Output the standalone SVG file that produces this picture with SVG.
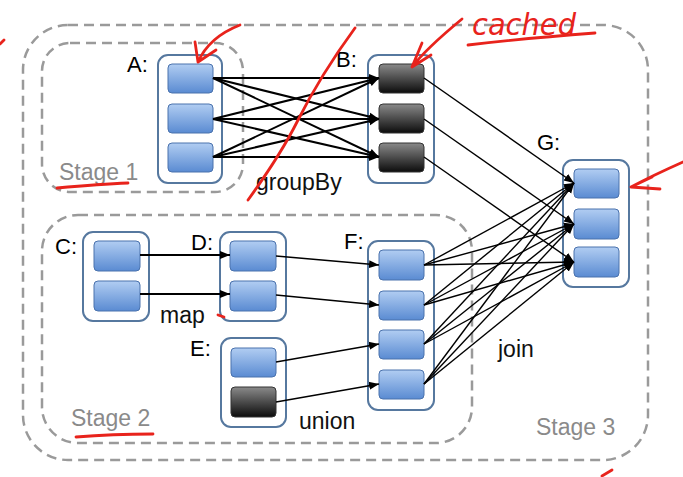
<svg xmlns="http://www.w3.org/2000/svg" width="683" height="477" viewBox="0 0 683 477">
<defs>
<linearGradient id="blue" x1="0" y1="0" x2="0" y2="1"><stop offset="0" stop-color="#b1cdf2"/><stop offset="1" stop-color="#5a8bd2"/></linearGradient>
<linearGradient id="dark" x1="0" y1="0" x2="0" y2="1"><stop offset="0" stop-color="#8a8a8a"/><stop offset="1" stop-color="#0c0c0c"/></linearGradient>
<marker id="ah" markerUnits="userSpaceOnUse" markerWidth="11" markerHeight="10" refX="10" refY="5" orient="auto"><path d="M0,1 L10,5 L0,9 Z" fill="#000"/></marker>
<style>
.stage{fill:none;stroke:#9a9a9a;stroke-width:2.5;stroke-dasharray:10 6}
.cont{fill:#fff;stroke:#56789f;stroke-width:2}
.bb{fill:url(#blue);stroke:#4a72ad;stroke-width:1}
.db{fill:url(#dark);stroke:#333;stroke-width:1}
.lbl{font-family:"Liberation Sans",Arial,sans-serif;font-size:22px;fill:#000}
.op{font-family:"Liberation Sans",Arial,sans-serif;font-size:23px;fill:#111}
.st{font-family:"Liberation Sans",Arial,sans-serif;font-size:23px;fill:#8a8a8a}
.e1{stroke:#000;stroke-width:2;fill:none;marker-end:url(#ah)}
.e2{stroke:#000;stroke-width:1.4;fill:none;marker-end:url(#ah)}
.red{stroke:#e8231c;stroke-width:2.8;fill:none;stroke-linecap:round;stroke-linejoin:round}
</style>
</defs>
<rect width="683" height="477" fill="#fff"/>
<g id="stage3"><rect class="stage" x="23" y="25" width="625" height="435" rx="45"/><text class="st" x="536" y="435">Stage 3</text></g>
<g id="stage1"><rect class="stage" x="42" y="43" width="201" height="149" rx="28"/><text class="st" x="59" y="180">Stage 1</text></g>
<g id="stage2"><rect class="stage" x="42" y="215" width="430" height="228" rx="36"/><text class="st" x="71" y="426">Stage 2</text></g>

<g id="A"><text class="lbl" x="127" y="72">A:</text><rect class="cont" x="158" y="55" width="64" height="128" rx="10"/>
<rect class="bb" x="168" y="64" width="45" height="29" rx="4"/><rect class="bb" x="168" y="104" width="45" height="29" rx="4"/><rect class="bb" x="168" y="143" width="45" height="29" rx="4"/></g>
<g id="B"><text class="lbl" x="336" y="67">B:</text><rect class="cont" x="368" y="55" width="66" height="128" rx="10"/>
<rect class="db" x="379" y="64" width="45" height="29" rx="4"/><rect class="db" x="379" y="104" width="45" height="29" rx="4"/><rect class="db" x="379" y="143" width="45" height="29" rx="4"/></g>
<g id="G"><text class="lbl" x="537" y="150">G:</text><rect class="cont" x="563" y="160" width="66" height="127" rx="10"/>
<rect class="bb" x="574" y="169" width="45" height="29" rx="4"/><rect class="bb" x="574" y="209" width="45" height="30" rx="4"/><rect class="bb" x="574" y="247" width="45" height="30" rx="4"/></g>
<g id="C"><text class="lbl" x="55" y="254">C:</text><rect class="cont" x="83" y="232" width="66" height="89" rx="10"/>
<rect class="bb" x="94" y="241" width="46" height="30" rx="4"/><rect class="bb" x="94" y="281" width="46" height="30" rx="4"/></g>
<g id="D"><text class="lbl" x="191" y="250">D:</text><rect class="cont" x="220" y="232" width="66" height="89" rx="10"/>
<rect class="bb" x="230" y="241" width="46" height="30" rx="4"/><rect class="bb" x="230" y="281" width="46" height="30" rx="4"/></g>
<g id="E"><text class="lbl" x="190" y="356">E:</text><rect class="cont" x="221" y="338" width="65" height="89" rx="10"/>
<rect class="bb" x="231" y="348" width="45" height="29" rx="4"/><rect class="db" x="231" y="387" width="45" height="30" rx="4"/></g>
<g id="F"><text class="lbl" x="344" y="249">F:</text><rect class="cont" x="368" y="241" width="66" height="169" rx="10"/>
<rect class="bb" x="379" y="250" width="45" height="30" rx="4"/><rect class="bb" x="379" y="291" width="45" height="29" rx="4"/><rect class="bb" x="379" y="330" width="45" height="29" rx="4"/><rect class="bb" x="379" y="370" width="45" height="29" rx="4"/></g>

<g id="connectors">
<line class="e1" x1="213" y1="78" x2="379" y2="78"/>
<line class="e1" x1="213" y1="78" x2="379" y2="119"/>
<line class="e1" x1="213" y1="78" x2="379" y2="157"/>
<line class="e1" x1="213" y1="119" x2="379" y2="78"/>
<line class="e1" x1="213" y1="119" x2="379" y2="119"/>
<line class="e1" x1="213" y1="119" x2="379" y2="157"/>
<line class="e1" x1="213" y1="157" x2="379" y2="78"/>
<line class="e1" x1="213" y1="157" x2="379" y2="119"/>
<line class="e1" x1="213" y1="157" x2="379" y2="157"/>
<line class="e2" x1="424" y1="78" x2="574" y2="183"/>
<line class="e2" x1="424" y1="119" x2="574" y2="224"/>
<line class="e2" x1="424" y1="157" x2="574" y2="262"/>
<line class="e1" x1="140" y1="255" x2="230" y2="255"/>
<line class="e1" x1="140" y1="294" x2="230" y2="294"/>
<line class="e2" x1="276" y1="256" x2="379" y2="265"/>
<line class="e2" x1="276" y1="295" x2="379" y2="305"/>
<line class="e2" x1="276" y1="362" x2="379" y2="344"/>
<line class="e2" x1="276" y1="402" x2="379" y2="384"/>
<line class="e2" x1="424" y1="265" x2="574" y2="183"/>
<line class="e2" x1="424" y1="265" x2="574" y2="224"/>
<line class="e2" x1="424" y1="265" x2="574" y2="262"/>
<line class="e2" x1="424" y1="305" x2="574" y2="183"/>
<line class="e2" x1="424" y1="305" x2="574" y2="224"/>
<line class="e2" x1="424" y1="305" x2="574" y2="262"/>
<line class="e2" x1="424" y1="344" x2="574" y2="183"/>
<line class="e2" x1="424" y1="344" x2="574" y2="224"/>
<line class="e2" x1="424" y1="344" x2="574" y2="262"/>
<line class="e2" x1="424" y1="384" x2="574" y2="183"/>
<line class="e2" x1="424" y1="384" x2="574" y2="224"/>
<line class="e2" x1="424" y1="384" x2="574" y2="262"/>
</g>

<g id="oplabels">
<text class="op" x="256" y="190">groupBy</text>
<text class="op" x="160" y="323">map</text>
<text class="op" x="299" y="429">union</text>
<text class="op" x="498" y="357">join</text>
</g>

<g id="annotations">
<path class="red" d="M240,25 C222,32 206,44 198,62 M198,62 L195,42 M198,62 L216,50"/>
<path class="red" d="M57,188 C80,186 105,184 128,183"/>
<path class="red" d="M355,28 C333,58 312,92 297,122 C282,152 266,175 248,200"/>
<path class="red" d="M462,19 C445,33 425,50 412,67 M412,67 L422,43 M412,67 L431,55"/>
<text x="472" y="35" font-family="'DejaVu Sans',sans-serif" font-style="italic" font-size="30" fill="#e8231c" textLength="104" lengthAdjust="spacingAndGlyphs">cached</text>
<path class="red" d="M468,45 C510,40 555,36 595,33"/>
<path class="red" d="M683,162 C665,170 648,178 631,187 M631,187 L652,177 M631,187 L660,189"/>
<path class="red" d="M76,437 C100,435 130,434 153,434"/>
<path class="red" d="M0,44 L4,40"/>
<path class="red" d="M602,476 L612,470"/>
<path class="red" stroke-width="1.5" d="M218,315 L224,317"/>
</g>
</svg>
